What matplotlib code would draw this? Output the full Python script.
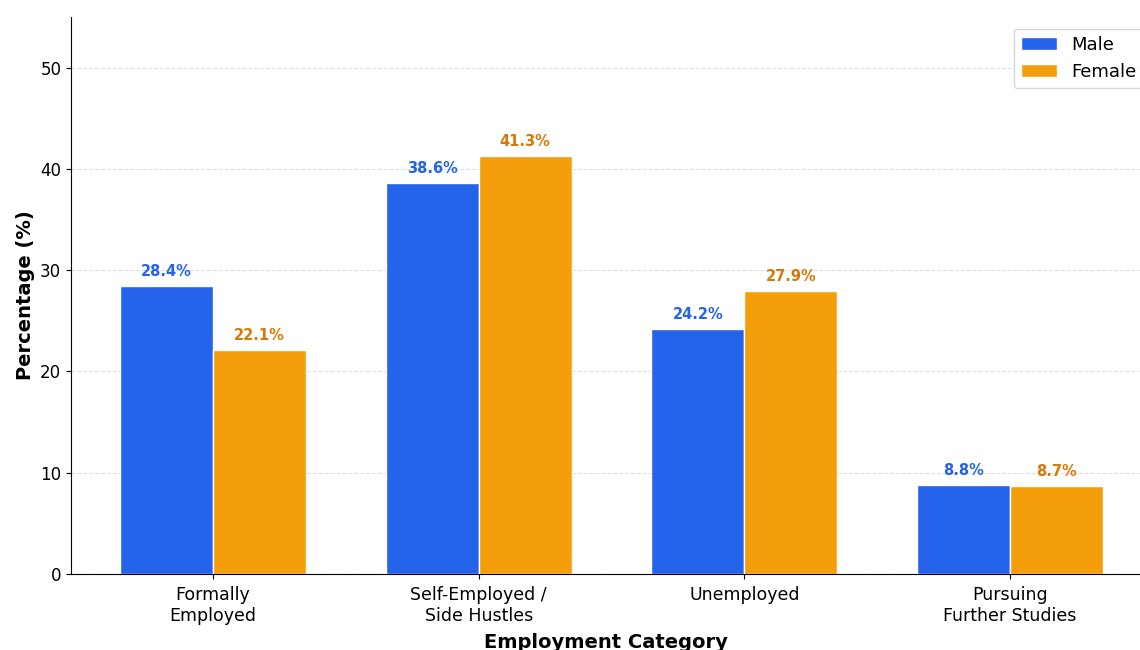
import numpy as np
import matplotlib.pyplot as plt

categories = ['Formally\nEmployed', 'Self-Employed /\nSide Hustles', 'Unemployed', 'Pursuing\nFurther Studies']
male = [28.4, 38.6, 24.2, 8.8]
female = [22.1, 41.3, 27.9, 8.7]

male_color = '#2563EB'
female_color = '#F59E0B'
female_text = '#D97706'

x = np.arange(len(categories))
width = 0.35

fig = plt.figure(figsize=(11.4, 6.5), dpi=100)
ax = fig.add_axes([0.0623, 0.117, 0.9377, 0.857])

b1 = ax.bar(x - width / 2, male, width, label='Male', color=male_color, edgecolor='white', linewidth=1)
b2 = ax.bar(x + width / 2, female, width, label='Female', color=female_color, edgecolor='white', linewidth=1)

for bar, v in zip(b1, male):
    ax.text(bar.get_x() + bar.get_width() / 2, v + 0.7, f'{v}%', ha='center', va='bottom',
            fontsize=10.5, fontweight='bold', color=male_color)
for bar, v in zip(b2, female):
    ax.text(bar.get_x() + bar.get_width() / 2, v + 0.7, f'{v}%', ha='center', va='bottom',
            fontsize=10.5, fontweight='bold', color=female_text)

ax.set_xticks(x)
ax.set_xticklabels(categories, fontsize=12.5)
ax.tick_params(axis='x', pad=5)
ax.tick_params(axis='y', labelsize=12)
ax.set_ylim(0, 55)
ax.set_xlim(-0.535, 3.49)
ax.set_yticks([0, 10, 20, 30, 40, 50])
ax.set_xlabel('Employment Category', fontsize=14, fontweight='bold', labelpad=6)
ax.set_ylabel('Percentage (%)', fontsize=14, fontweight='bold')
ax.yaxis.grid(True, linestyle='--', color='#cccccc', alpha=0.6)
ax.set_axisbelow(True)
ax.spines['top'].set_visible(False)
ax.spines['right'].set_visible(False)

ax.legend(loc='upper right', bbox_to_anchor=(1.012, 0.995), fontsize=13)

fig.savefig('out.png', dpi=100)
